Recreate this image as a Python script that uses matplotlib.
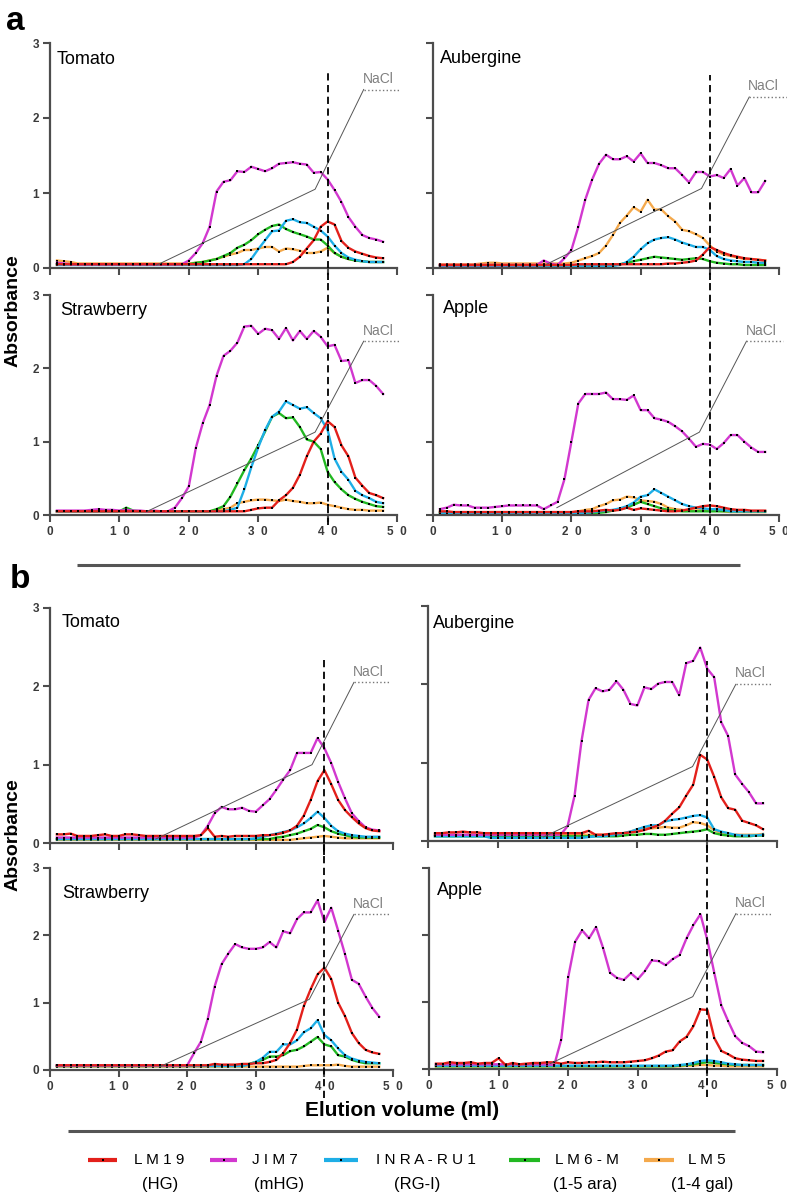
import matplotlib
matplotlib.use("Agg")
from matplotlib import pyplot as plt

plt.rcParams['font.family'] = ['Liberation Sans', 'DejaVu Sans']

#Elution fractions (ml)
fractions = list(range(1, 49))

#Antibody names and colours
antibodies = ['LM5', 'LM6-M', 'INRA-RU1', 'JIM7', 'LM19']
colours = {'LM19': '#e3201b', 'JIM7': '#d238cf', 'INRA-RU1': '#1eaee6',
           'LM6-M': '#22b822', 'LM5': '#f4a94c'}
legend_top = ['L M 1 9', 'J I M 7', 'I N R A - R U 1', 'L M 6 - M', 'L M 5']
legend_bottom = ['(HG)', '(mHG)', '(RG-I)', '(1-5 ara)', '(1-4 gal)']
legend_keys = ['LM19', 'JIM7', 'INRA-RU1', 'LM6-M', 'LM5']
x_tick_labels = ['0', '1  0', '2  0', '3  0', '4  0', '5  0']
y_tick_labels = ['0', '1', '2', '3']

# ---------------- panel a ----------------
tom_a_lm19 = [0.05, 0.05, 0.05, 0.05, 0.05, 0.05, 0.05, 0.05, 0.05, 0.05, 0.05, 0.05,
              0.05, 0.05, 0.05, 0.05, 0.05, 0.05, 0.05, 0.05, 0.05, 0.05, 0.05, 0.05,
              0.05, 0.05, 0.05, 0.05, 0.05, 0.05, 0.05, 0.05, 0.05, 0.05, 0.08, 0.15,
              0.26, 0.37, 0.55, 0.62, 0.58, 0.36, 0.27, 0.22, 0.19, 0.16, 0.14, 0.13]
tom_a_jim7 = [0.07, 0.06, 0.05, 0.05, 0.05, 0.05, 0.05, 0.05, 0.05, 0.05, 0.05, 0.05,
              0.05, 0.05, 0.05, 0.05, 0.05, 0.05, 0.05, 0.10, 0.20, 0.33, 0.55, 1.02,
              1.15, 1.17, 1.29, 1.28, 1.35, 1.32, 1.29, 1.33, 1.39, 1.40, 1.41, 1.39,
              1.38, 1.27, 1.28, 1.18, 1.04, 0.88, 0.68, 0.55, 0.44, 0.40, 0.38, 0.35]
tom_a_inra = [0.04, 0.04, 0.04, 0.04, 0.04, 0.04, 0.04, 0.04, 0.04, 0.04, 0.04, 0.04,
              0.04, 0.04, 0.04, 0.04, 0.04, 0.04, 0.04, 0.04, 0.04, 0.04, 0.04, 0.04,
              0.04, 0.04, 0.04, 0.05, 0.12, 0.25, 0.37, 0.49, 0.50, 0.63, 0.65, 0.61,
              0.60, 0.55, 0.50, 0.42, 0.30, 0.20, 0.14, 0.11, 0.09, 0.08, 0.08, 0.08]
tom_a_lm6 = [0.05, 0.05, 0.05, 0.05, 0.05, 0.05, 0.05, 0.05, 0.05, 0.05, 0.05, 0.05,
             0.05, 0.05, 0.05, 0.05, 0.05, 0.05, 0.05, 0.05, 0.07, 0.08, 0.10, 0.12,
             0.16, 0.20, 0.27, 0.31, 0.37, 0.45, 0.51, 0.56, 0.58, 0.52, 0.48, 0.45,
             0.42, 0.38, 0.38, 0.30, 0.20, 0.15, 0.12, 0.10, 0.09, 0.08, 0.08, 0.08]
tom_a_lm5 = [0.10, 0.09, 0.08, 0.06, 0.06, 0.06, 0.06, 0.06, 0.06, 0.06, 0.06, 0.06,
             0.06, 0.06, 0.06, 0.06, 0.06, 0.06, 0.06, 0.06, 0.07, 0.08, 0.10, 0.12,
             0.15, 0.18, 0.20, 0.24, 0.24, 0.26, 0.28, 0.28, 0.22, 0.26, 0.25, 0.23,
             0.20, 0.20, 0.22, 0.27, 0.20, 0.15, 0.12, 0.10, 0.09, 0.08, 0.08, 0.08]

aub_a_lm19 = [0.04, 0.04, 0.04, 0.04, 0.04, 0.04, 0.04, 0.04, 0.04, 0.04, 0.04, 0.04,
              0.04, 0.04, 0.04, 0.04, 0.04, 0.04, 0.04, 0.04, 0.05, 0.05, 0.05, 0.05,
              0.05, 0.05, 0.05, 0.05, 0.05, 0.05, 0.05, 0.05, 0.05, 0.06, 0.06, 0.07,
              0.08, 0.10, 0.18, 0.28, 0.24, 0.20, 0.17, 0.15, 0.13, 0.12, 0.11, 0.10]
aub_a_jim7 = [0.04, 0.04, 0.04, 0.04, 0.04, 0.04, 0.04, 0.04, 0.04, 0.04, 0.04, 0.04,
              0.04, 0.04, 0.04, 0.10, 0.06, 0.04, 0.13, 0.24, 0.55, 0.91, 1.18, 1.39,
              1.51, 1.45, 1.45, 1.49, 1.42, 1.53, 1.40, 1.40, 1.37, 1.33, 1.33, 1.24,
              1.14, 1.28, 1.28, 1.22, 1.24, 1.20, 1.32, 1.10, 1.20, 1.01, 1.01, 1.16]
aub_a_inra = [0.03, 0.03, 0.03, 0.03, 0.03, 0.03, 0.03, 0.03, 0.03, 0.03, 0.03, 0.03,
              0.03, 0.03, 0.03, 0.03, 0.03, 0.03, 0.03, 0.03, 0.03, 0.03, 0.03, 0.03,
              0.03, 0.03, 0.04, 0.08, 0.15, 0.25, 0.33, 0.38, 0.40, 0.41, 0.38, 0.34,
              0.31, 0.28, 0.28, 0.24, 0.16, 0.12, 0.10, 0.09, 0.08, 0.08, 0.07, 0.07]
aub_a_lm6 = [0.03, 0.03, 0.03, 0.03, 0.03, 0.03, 0.03, 0.03, 0.03, 0.03, 0.03, 0.03,
             0.03, 0.03, 0.03, 0.03, 0.03, 0.03, 0.03, 0.03, 0.03, 0.03, 0.03, 0.03,
             0.03, 0.03, 0.05, 0.07, 0.09, 0.11, 0.13, 0.15, 0.14, 0.13, 0.12, 0.11,
             0.12, 0.13, 0.12, 0.09, 0.07, 0.06, 0.05, 0.05, 0.04, 0.04, 0.04, 0.04]
aub_a_lm5 = [0.05, 0.05, 0.05, 0.05, 0.05, 0.05, 0.06, 0.07, 0.07, 0.06, 0.06, 0.06,
             0.06, 0.06, 0.06, 0.06, 0.06, 0.06, 0.06, 0.07, 0.10, 0.13, 0.16, 0.20,
             0.30, 0.44, 0.60, 0.70, 0.81, 0.75, 0.91, 0.78, 0.78, 0.69, 0.62, 0.51,
             0.49, 0.45, 0.40, 0.30, 0.22, 0.18, 0.16, 0.14, 0.12, 0.12, 0.11, 0.10]

str_a_lm19 = [0.05, 0.05, 0.05, 0.05, 0.05, 0.05, 0.05, 0.05, 0.05, 0.05, 0.05, 0.05,
              0.05, 0.05, 0.05, 0.05, 0.05, 0.05, 0.05, 0.05, 0.05, 0.05, 0.05, 0.05,
              0.05, 0.05, 0.05, 0.05, 0.07, 0.09, 0.10, 0.10, 0.20, 0.27, 0.37, 0.55,
              0.80, 1.00, 1.11, 1.28, 1.20, 0.95, 0.80, 0.51, 0.40, 0.30, 0.27, 0.23]
str_a_jim7 = [0.06, 0.06, 0.06, 0.06, 0.06, 0.07, 0.08, 0.07, 0.07, 0.06, 0.07, 0.06,
              0.06, 0.05, 0.06, 0.05, 0.05, 0.10, 0.23, 0.39, 0.91, 1.25, 1.50, 1.90,
              2.17, 2.24, 2.35, 2.57, 2.58, 2.47, 2.54, 2.52, 2.40, 2.55, 2.38, 2.51,
              2.40, 2.51, 2.43, 2.30, 2.32, 2.10, 2.11, 1.80, 1.84, 1.84, 1.76, 1.65]
str_a_inra = [0.05, 0.05, 0.05, 0.05, 0.05, 0.05, 0.05, 0.05, 0.05, 0.05, 0.05, 0.05,
              0.05, 0.05, 0.05, 0.05, 0.05, 0.05, 0.05, 0.05, 0.05, 0.05, 0.05, 0.05,
              0.05, 0.07, 0.10, 0.35, 0.65, 0.92, 1.16, 1.34, 1.41, 1.55, 1.50, 1.45,
              1.47, 1.39, 1.32, 1.16, 0.77, 0.59, 0.48, 0.33, 0.27, 0.23, 0.18, 0.16]
str_a_lm6 = [0.05, 0.05, 0.05, 0.05, 0.05, 0.05, 0.05, 0.05, 0.05, 0.05, 0.10, 0.06,
             0.05, 0.05, 0.05, 0.05, 0.05, 0.05, 0.05, 0.05, 0.05, 0.05, 0.05, 0.08,
             0.12, 0.25, 0.43, 0.61, 0.77, 0.95, 1.14, 1.34, 1.39, 1.32, 1.33, 1.20,
             1.03, 1.00, 0.90, 0.59, 0.45, 0.35, 0.27, 0.22, 0.18, 0.15, 0.12, 0.11]
str_a_lm5 = [0.05, 0.05, 0.05, 0.05, 0.05, 0.05, 0.05, 0.05, 0.05, 0.05, 0.05, 0.05,
             0.05, 0.05, 0.05, 0.05, 0.05, 0.05, 0.05, 0.05, 0.05, 0.05, 0.05, 0.07,
             0.08, 0.10, 0.16, 0.18, 0.20, 0.21, 0.21, 0.20, 0.19, 0.21, 0.19, 0.18,
             0.16, 0.16, 0.17, 0.14, 0.12, 0.10, 0.08, 0.07, 0.07, 0.06, 0.06, 0.06]

app_a_lm19 = [0.05, 0.05, 0.04, 0.04, 0.04, 0.04, 0.04, 0.04, 0.04, 0.04, 0.04, 0.04,
              0.04, 0.04, 0.04, 0.04, 0.04, 0.04, 0.04, 0.04, 0.05, 0.05, 0.05, 0.06,
              0.07, 0.06, 0.07, 0.10, 0.07, 0.09, 0.08, 0.07, 0.06, 0.05, 0.05, 0.06,
              0.08, 0.10, 0.12, 0.13, 0.12, 0.10, 0.08, 0.07, 0.07, 0.06, 0.06, 0.06]
app_a_jim7 = [0.08, 0.10, 0.14, 0.13, 0.13, 0.10, 0.10, 0.10, 0.11, 0.12, 0.13, 0.13,
              0.13, 0.13, 0.13, 0.08, 0.13, 0.18, 0.49, 1.00, 1.52, 1.65, 1.65, 1.65,
              1.67, 1.58, 1.58, 1.57, 1.63, 1.43, 1.43, 1.32, 1.30, 1.27, 1.21, 1.14,
              1.04, 0.93, 0.97, 0.96, 0.90, 0.98, 1.09, 1.09, 1.00, 0.92, 0.86, 0.86]
app_a_inra = [0.03, 0.03, 0.03, 0.03, 0.03, 0.03, 0.03, 0.03, 0.03, 0.03, 0.03, 0.03,
              0.03, 0.03, 0.03, 0.03, 0.03, 0.03, 0.03, 0.03, 0.03, 0.03, 0.04, 0.05,
              0.06, 0.07, 0.09, 0.12, 0.17, 0.25, 0.27, 0.35, 0.30, 0.25, 0.20, 0.15,
              0.12, 0.10, 0.09, 0.08, 0.08, 0.07, 0.05, 0.05, 0.05, 0.05, 0.05, 0.05]
app_a_lm6 = [0.03, 0.03, 0.03, 0.03, 0.03, 0.03, 0.03, 0.03, 0.03, 0.03, 0.03, 0.03,
             0.03, 0.03, 0.03, 0.03, 0.03, 0.03, 0.03, 0.03, 0.03, 0.03, 0.03, 0.03,
             0.04, 0.06, 0.08, 0.10, 0.14, 0.18, 0.15, 0.12, 0.09, 0.07, 0.06, 0.05,
             0.05, 0.05, 0.05, 0.05, 0.05, 0.05, 0.05, 0.05, 0.05, 0.05, 0.05, 0.05]
app_a_lm5 = [0.03, 0.03, 0.03, 0.03, 0.03, 0.03, 0.03, 0.03, 0.03, 0.03, 0.03, 0.03,
             0.03, 0.03, 0.03, 0.03, 0.03, 0.03, 0.03, 0.03, 0.05, 0.07, 0.08, 0.12,
             0.15, 0.20, 0.21, 0.25, 0.24, 0.20, 0.19, 0.18, 0.15, 0.10, 0.08, 0.07,
             0.06, 0.06, 0.07, 0.07, 0.06, 0.05, 0.04, 0.04, 0.04, 0.04, 0.04, 0.04]

# ---------------- panel b ----------------
tom_b_lm19 = [0.11, 0.11, 0.12, 0.09, 0.09, 0.09, 0.10, 0.11, 0.09, 0.09, 0.11, 0.11,
              0.10, 0.09, 0.09, 0.09, 0.09, 0.09, 0.09, 0.09, 0.09, 0.10, 0.19, 0.08,
              0.09, 0.08, 0.09, 0.09, 0.09, 0.09, 0.10, 0.10, 0.11, 0.13, 0.16, 0.22,
              0.35, 0.55, 0.79, 0.93, 0.75, 0.55, 0.42, 0.33, 0.25, 0.19, 0.16, 0.15]
tom_b_jim7 = [0.07, 0.07, 0.07, 0.07, 0.07, 0.07, 0.07, 0.07, 0.07, 0.07, 0.07, 0.07,
              0.07, 0.07, 0.07, 0.07, 0.07, 0.07, 0.07, 0.07, 0.07, 0.10, 0.22, 0.38,
              0.46, 0.43, 0.43, 0.45, 0.41, 0.40, 0.48, 0.56, 0.68, 0.81, 0.93, 1.15,
              1.15, 1.15, 1.34, 1.21, 1.02, 0.78, 0.57, 0.38, 0.28, 0.20, 0.17, 0.16]
tom_b_inra = [0.05, 0.05, 0.05, 0.05, 0.05, 0.05, 0.05, 0.05, 0.05, 0.05, 0.05, 0.05,
              0.05, 0.05, 0.05, 0.05, 0.05, 0.05, 0.05, 0.05, 0.05, 0.05, 0.05, 0.05,
              0.05, 0.05, 0.05, 0.05, 0.05, 0.06, 0.08, 0.10, 0.12, 0.14, 0.16, 0.20,
              0.25, 0.32, 0.40, 0.32, 0.22, 0.15, 0.12, 0.10, 0.09, 0.08, 0.08, 0.08]
tom_b_lm6 = [0.05, 0.05, 0.05, 0.05, 0.05, 0.05, 0.05, 0.05, 0.05, 0.05, 0.05, 0.05,
             0.05, 0.05, 0.05, 0.05, 0.05, 0.05, 0.05, 0.05, 0.05, 0.05, 0.05, 0.05,
             0.05, 0.05, 0.05, 0.05, 0.05, 0.05, 0.05, 0.05, 0.07, 0.08, 0.10, 0.12,
             0.15, 0.18, 0.23, 0.20, 0.15, 0.12, 0.10, 0.08, 0.07, 0.07, 0.07, 0.07]
tom_b_lm5 = [0.04, 0.04, 0.04, 0.04, 0.04, 0.04, 0.04, 0.04, 0.04, 0.04, 0.04, 0.04,
             0.04, 0.04, 0.04, 0.04, 0.04, 0.04, 0.04, 0.04, 0.04, 0.04, 0.04, 0.04,
             0.04, 0.04, 0.04, 0.04, 0.04, 0.04, 0.04, 0.04, 0.04, 0.04, 0.04, 0.05,
             0.06, 0.07, 0.08, 0.09, 0.08, 0.07, 0.06, 0.06, 0.06, 0.06, 0.06, 0.06]

aub_b_lm19 = [0.10, 0.10, 0.11, 0.11, 0.12, 0.11, 0.11, 0.10, 0.10, 0.10, 0.10, 0.10,
              0.10, 0.10, 0.10, 0.10, 0.10, 0.10, 0.10, 0.10, 0.10, 0.10, 0.13, 0.08,
              0.08, 0.09, 0.10, 0.10, 0.11, 0.12, 0.14, 0.17, 0.20, 0.26, 0.35, 0.43,
              0.58, 0.72, 1.10, 1.04, 0.82, 0.56, 0.42, 0.40, 0.26, 0.23, 0.20, 0.15]
aub_b_jim7 = [0.08, 0.08, 0.08, 0.08, 0.08, 0.08, 0.08, 0.08, 0.08, 0.08, 0.08, 0.08,
              0.08, 0.08, 0.08, 0.08, 0.08, 0.08, 0.08, 0.19, 0.58, 1.28, 1.80, 1.95,
              1.91, 1.93, 2.04, 1.93, 1.75, 1.73, 1.96, 1.94, 2.01, 2.03, 2.03, 1.86,
              2.27, 2.30, 2.47, 2.20, 2.09, 1.52, 1.34, 0.85, 0.73, 0.62, 0.48, 0.48]
aub_b_inra = [0.06, 0.06, 0.06, 0.06, 0.06, 0.06, 0.06, 0.06, 0.04, 0.04, 0.04, 0.04,
              0.04, 0.04, 0.04, 0.04, 0.04, 0.04, 0.04, 0.04, 0.04, 0.04, 0.05, 0.06,
              0.06, 0.07, 0.08, 0.10, 0.12, 0.15, 0.18, 0.20, 0.20, 0.25, 0.27, 0.28,
              0.30, 0.32, 0.33, 0.30, 0.15, 0.12, 0.10, 0.08, 0.07, 0.07, 0.07, 0.08]
aub_b_lm6 = [0.06, 0.06, 0.06, 0.06, 0.06, 0.06, 0.06, 0.06, 0.06, 0.06, 0.06, 0.06,
             0.06, 0.06, 0.06, 0.06, 0.06, 0.06, 0.06, 0.06, 0.06, 0.06, 0.06, 0.06,
             0.06, 0.06, 0.06, 0.07, 0.08, 0.08, 0.09, 0.09, 0.08, 0.08, 0.09, 0.10,
             0.11, 0.12, 0.13, 0.15, 0.10, 0.08, 0.07, 0.06, 0.06, 0.06, 0.07, 0.07]
aub_b_lm5 = [0.08, 0.08, 0.08, 0.08, 0.08, 0.08, 0.08, 0.08, 0.08, 0.08, 0.08, 0.08,
             0.08, 0.08, 0.08, 0.08, 0.08, 0.08, 0.08, 0.08, 0.08, 0.08, 0.08, 0.08,
             0.08, 0.08, 0.09, 0.10, 0.12, 0.15, 0.17, 0.16, 0.17, 0.18, 0.17, 0.17,
             0.20, 0.24, 0.23, 0.20, 0.14, 0.10, 0.09, 0.08, 0.08, 0.08, 0.08, 0.09]

str_b_lm19 = [0.07, 0.07, 0.07, 0.07, 0.07, 0.07, 0.07, 0.07, 0.07, 0.07, 0.07, 0.07,
              0.07, 0.07, 0.07, 0.07, 0.07, 0.07, 0.07, 0.07, 0.07, 0.07, 0.07, 0.09,
              0.08, 0.08, 0.08, 0.09, 0.09, 0.10, 0.10, 0.12, 0.15, 0.25, 0.40, 0.60,
              0.95, 1.20, 1.42, 1.52, 1.35, 1.00, 0.80, 0.55, 0.40, 0.30, 0.26, 0.24]
str_b_jim7 = [0.07, 0.07, 0.07, 0.07, 0.07, 0.07, 0.07, 0.07, 0.07, 0.07, 0.07, 0.07,
              0.07, 0.07, 0.07, 0.07, 0.07, 0.07, 0.07, 0.07, 0.25, 0.42, 0.76, 1.24,
              1.57, 1.73, 1.87, 1.82, 1.80, 1.80, 1.82, 1.90, 1.82, 2.06, 2.03, 2.24,
              2.34, 2.34, 2.52, 2.20, 2.41, 2.07, 1.72, 1.34, 1.28, 1.09, 0.92, 0.79]
str_b_inra = [0.06, 0.06, 0.06, 0.06, 0.06, 0.06, 0.06, 0.06, 0.06, 0.06, 0.06, 0.06,
              0.06, 0.06, 0.06, 0.06, 0.06, 0.06, 0.06, 0.06, 0.06, 0.06, 0.06, 0.06,
              0.06, 0.06, 0.06, 0.06, 0.08, 0.12, 0.18, 0.27, 0.27, 0.38, 0.38, 0.44,
              0.56, 0.62, 0.74, 0.52, 0.44, 0.32, 0.22, 0.17, 0.14, 0.12, 0.11, 0.10]
str_b_lm6 = [0.06, 0.06, 0.06, 0.06, 0.06, 0.06, 0.06, 0.06, 0.06, 0.06, 0.06, 0.06,
             0.06, 0.06, 0.06, 0.06, 0.06, 0.06, 0.06, 0.06, 0.06, 0.06, 0.06, 0.06,
             0.06, 0.06, 0.06, 0.06, 0.09, 0.12, 0.15, 0.20, 0.20, 0.22, 0.28, 0.30,
             0.35, 0.42, 0.49, 0.38, 0.35, 0.22, 0.20, 0.15, 0.12, 0.10, 0.10, 0.10]
str_b_lm5 = [0.05, 0.05, 0.05, 0.05, 0.05, 0.05, 0.05, 0.05, 0.05, 0.05, 0.05, 0.05,
             0.05, 0.05, 0.05, 0.05, 0.05, 0.05, 0.05, 0.05, 0.05, 0.05, 0.05, 0.05,
             0.05, 0.05, 0.05, 0.05, 0.05, 0.05, 0.05, 0.05, 0.05, 0.05, 0.05, 0.05,
             0.06, 0.07, 0.07, 0.07, 0.07, 0.08, 0.06, 0.05, 0.05, 0.05, 0.05, 0.05]

app_b_lm19 = [0.08, 0.08, 0.10, 0.09, 0.09, 0.10, 0.08, 0.09, 0.09, 0.16, 0.06, 0.09,
              0.07, 0.08, 0.09, 0.09, 0.10, 0.10, 0.08, 0.10, 0.09, 0.09, 0.10, 0.10,
              0.11, 0.10, 0.10, 0.10, 0.11, 0.12, 0.13, 0.16, 0.20, 0.26, 0.28, 0.41,
              0.48, 0.64, 0.89, 0.88, 0.46, 0.27, 0.22, 0.16, 0.14, 0.13, 0.12, 0.12]
app_b_jim7 = [0.07, 0.07, 0.07, 0.07, 0.07, 0.07, 0.07, 0.07, 0.07, 0.07, 0.07, 0.07,
              0.07, 0.07, 0.07, 0.07, 0.07, 0.06, 0.44, 1.37, 1.90, 2.07, 1.95, 2.12,
              1.81, 1.44, 1.36, 1.33, 1.43, 1.34, 1.46, 1.62, 1.61, 1.55, 1.64, 1.70,
              1.95, 2.15, 2.31, 1.92, 1.43, 0.95, 0.71, 0.49, 0.39, 0.34, 0.26, 0.25]
app_b_inra = [0.05, 0.05, 0.05, 0.05, 0.05, 0.05, 0.05, 0.05, 0.05, 0.05, 0.05, 0.05,
              0.05, 0.05, 0.05, 0.05, 0.05, 0.05, 0.05, 0.05, 0.05, 0.05, 0.05, 0.05,
              0.05, 0.05, 0.05, 0.05, 0.05, 0.05, 0.05, 0.05, 0.05, 0.05, 0.05, 0.06,
              0.07, 0.09, 0.12, 0.13, 0.12, 0.10, 0.08, 0.07, 0.06, 0.06, 0.06, 0.06]
app_b_lm6 = [0.04, 0.04, 0.04, 0.04, 0.04, 0.04, 0.04, 0.04, 0.04, 0.04, 0.04, 0.04,
             0.04, 0.04, 0.04, 0.04, 0.04, 0.04, 0.04, 0.04, 0.04, 0.04, 0.04, 0.04,
             0.04, 0.04, 0.04, 0.04, 0.04, 0.04, 0.04, 0.04, 0.04, 0.04, 0.04, 0.05,
             0.06, 0.07, 0.09, 0.10, 0.09, 0.08, 0.07, 0.06, 0.06, 0.06, 0.06, 0.06]
app_b_lm5 = [0.04, 0.04, 0.04, 0.04, 0.04, 0.04, 0.04, 0.04, 0.04, 0.04, 0.04, 0.04,
             0.04, 0.04, 0.04, 0.04, 0.04, 0.04, 0.04, 0.04, 0.04, 0.04, 0.04, 0.04,
             0.04, 0.04, 0.04, 0.04, 0.04, 0.04, 0.04, 0.04, 0.04, 0.04, 0.04, 0.04,
             0.05, 0.05, 0.06, 0.06, 0.05, 0.05, 0.04, 0.04, 0.04, 0.04, 0.04, 0.04]

#NaCl gradient annotation (x in ml, y in absorbance units)
nacl_a_tom = ([15.4, 38.2, 45.2, 50.5], [0.04, 1.05, 2.38, 2.38])
nacl_a_aub = ([16.4, 38.8, 45.7, 51.1], [0.05, 1.06, 2.28, 2.28])
nacl_a_str = ([14.0, 38.2, 45.2, 50.5], [0.05, 1.13, 2.37, 2.37])
nacl_a_app = ([17.9, 38.5, 45.3, 50.6], [0.10, 1.13, 2.37, 2.37])
nacl_b_tom = ([15.4, 38.2, 44.3, 49.5], [0.05, 1.00, 2.05, 2.05])
nacl_b_aub = ([16.5, 37.9, 44.1, 49.1], [0.05, 0.95, 2.00, 2.00])
nacl_b_str = ([16.0, 37.8, 44.3, 49.5], [0.05, 1.05, 2.31, 2.31])
nacl_b_app = ([17.4, 37.9, 44.1, 49.1], [0.08, 1.08, 2.32, 2.32])

W, H = 787, 1196
fig = plt.figure(figsize=(W / 100, H / 100), dpi=100)

def px_axes(x0, y0, x1, y1):
    #axes from pixel box (top-left origin)
    return fig.add_axes([x0 / W, 1 - y1 / H, (x1 - x0) / W, (y1 - y0) / H])

def draw_panel(ax, title, tpos, data, nacl, dash, xlab, ylab):
    for i, key in enumerate(antibodies):
        ax.plot(fractions, data[key], color=colours[key], lw=1.7, marker='s',
                ms=1.7, mfc='k', mec='k', mew=0, zorder=3 + i, clip_on=False)
    nx, ny = nacl
    ax.plot(nx[:3], ny[:3], color='#555555', lw=0.7, zorder=9, clip_on=False)
    ax.plot(nx[2:], ny[2:], color='#777777', lw=1.0, ls=':', zorder=9, clip_on=False)
    ax.text(nx[2] + 2.1, ny[2] + 0.05, 'NaCl', color='#808080', fontsize=10,
            ha='center', va='bottom', clip_on=False)
    ax.plot([40, 40], dash, color='k', lw=1.3, ls=(0, (4, 2.5)), zorder=10, clip_on=False)
    ax.text(tpos[0], tpos[1], title, transform=ax.transAxes, fontsize=13,
            ha='left', va='top')
    ax.set_xlim(0, 50)
    ax.set_ylim(0, 3)
    for s in ['top', 'right']:
        ax.spines[s].set_visible(False)
    for s in ['left', 'bottom']:
        ax.spines[s].set_color('#4d4d4d')
        ax.spines[s].set_linewidth(1.6)
    ax.set_xticks([0, 10, 20, 30, 40, 50])
    ax.set_yticks([0, 1, 2, 3])
    ax.set_xticklabels(x_tick_labels, fontweight='bold')
    ax.set_yticklabels(y_tick_labels, fontweight='bold')
    ax.tick_params(direction='out', length=5, width=1.5, color='#4d4d4d',
                   labelcolor='#3a3a3a', labelsize=8.5, pad=3,
                   labelbottom=xlab, labelleft=ylab)
    ax.patch.set_alpha(0)

def series(l19, j7, inra, l6, l5):
    return {'LM19': l19, 'JIM7': j7, 'INRA-RU1': inra, 'LM6-M': l6, 'LM5': l5}

#Group a
ax = px_axes(50, 43, 397, 268)
draw_panel(ax, 'Tomato', (0.02, 0.965),
           series(tom_a_lm19, tom_a_jim7, tom_a_inra, tom_a_lm6, tom_a_lm5),
           nacl_a_tom, [-0.16, 2.6], False, True)
ax = px_axes(433, 43, 779, 268)
draw_panel(ax, 'Aubergine', (0.02, 0.97),
           series(aub_a_lm19, aub_a_jim7, aub_a_inra, aub_a_lm6, aub_a_lm5),
           nacl_a_aub, [-0.16, 2.57], False, False)
ax = px_axes(50, 295, 397, 515)
draw_panel(ax, 'Strawberry', (0.029, 0.97),
           series(str_a_lm19, str_a_jim7, str_a_inra, str_a_lm6, str_a_lm5),
           nacl_a_str, [-0.14, 3.2], True, True)
ax = px_axes(433, 295, 779, 515)
draw_panel(ax, 'Apple', (0.029, 0.979),
           series(app_a_lm19, app_a_jim7, app_a_inra, app_a_lm6, app_a_lm5),
           nacl_a_app, [-0.14, 3.2], True, False)

#Group b
ax = px_axes(50, 608, 393, 843)
draw_panel(ax, 'Tomato', (0.035, 0.976),
           series(tom_b_lm19, tom_b_jim7, tom_b_inra, tom_b_lm6, tom_b_lm5),
           nacl_b_tom, [-0.15, 2.33], False, True)
ax = px_axes(428, 606, 777, 841)
draw_panel(ax, 'Aubergine', (0.014, 0.96),
           series(aub_b_lm19, aub_b_jim7, aub_b_inra, aub_b_lm6, aub_b_lm5),
           nacl_b_aub, [-0.15, 2.3], False, False)
ax = px_axes(50, 868, 393, 1070)
draw_panel(ax, 'Strawberry', (0.035, 0.918),
           series(str_b_lm19, str_b_jim7, str_b_inra, str_b_lm6, str_b_lm5),
           nacl_b_str, [-0.42, 3.35], True, True)
ax = px_axes(429, 868, 777, 1069)
draw_panel(ax, 'Apple', (0.023, 0.932),
           series(app_b_lm19, app_b_jim7, app_b_inra, app_b_lm6, app_b_lm5),
           nacl_b_app, [-0.42, 3.35], True, False)

#Overlay in pixel units for labels, separators and legend
ov = fig.add_axes([0, 0, 1, 1], zorder=20)
ov.set_xlim(0, W)
ov.set_ylim(H, 0)
ov.axis('off')
ov.patch.set_alpha(0)

ov.text(6, 30, 'a', fontsize=24, fontweight='bold', ha='left', va='baseline')
ov.text(10, 588, 'b', fontsize=24, fontweight='bold', ha='left', va='baseline')
ov.text(13, 311, 'Absorbance', rotation=90, fontsize=14, fontweight='bold',
        ha='center', va='center')
ov.text(13, 835, 'Absorbance', rotation=90, fontsize=14, fontweight='bold',
        ha='center', va='center')
ov.text(402, 1110, 'Elution volume (ml)', fontsize=15, fontweight='bold',
        ha='center', va='center')

ov.plot([77, 740], [565, 565], color='#555555', lw=2.2, solid_capstyle='butt')
ov.plot([68, 735], [1131, 1131], color='#555555', lw=2.2, solid_capstyle='butt')

#Legend
handle_x0 = [88, 210, 324, 509, 644]
handle_x1 = [117, 237, 358, 540, 674]
text_x = [134, 252, 376, 555, 688]
sub_x = [160, 279, 417, 585, 702]
for i, key in enumerate(legend_keys):
    ov.plot([handle_x0[i], handle_x1[i]], [1160, 1160], color=colours[key],
            lw=3, solid_capstyle='butt')
    ov.plot([(handle_x0[i] + handle_x1[i]) / 2], [1160], marker='s', ms=2,
            color='k', mew=0)
    ov.text(text_x[i], 1160, legend_top[i], fontsize=11, ha='left', va='center')
    ov.text(sub_x[i], 1185, legend_bottom[i], fontsize=12, ha='center', va='center')

fig.savefig('out.png', dpi=100)
